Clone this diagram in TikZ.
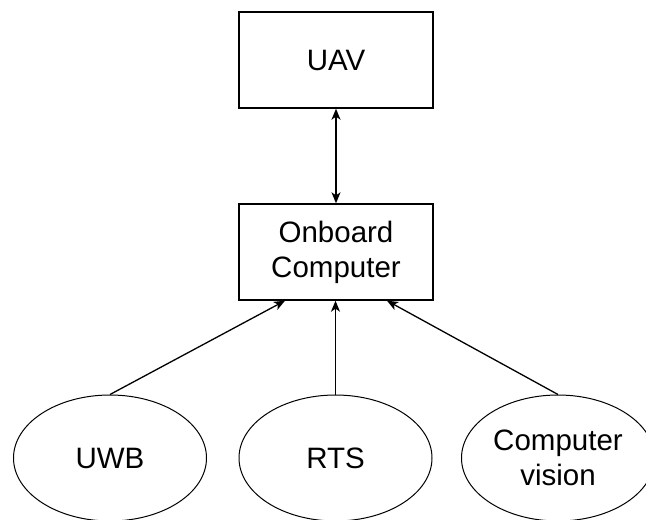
\documentclass[tikz,border=0pt]{standalone}
\usepackage{fontspec}
\setmainfont{Liberation Sans}
\usetikzlibrary{arrows.meta,shapes.geometric}
\begin{document}
\begin{tikzpicture}[x=1pt,y=-1pt,
  box/.style={draw,line width=1.4pt,rectangle,minimum width=194pt,minimum height=96pt,inner sep=0pt,align=center,font=\fontsize{29.5}{35}\selectfont},
  oval/.style={draw,line width=1pt,ellipse,minimum width=193pt,minimum height=126pt,inner sep=0pt,align=center,font=\fontsize{29.5}{35}\selectfont},
  conn/.style={line width=1.3pt,-{Stealth[length=11pt,width=9pt,inset=3pt]}},
  conn2/.style={line width=1.3pt,{Stealth[length=11pt,width=9pt,inset=3pt]}-{Stealth[length=11pt,width=9pt,inset=3pt]}}]
\useasboundingbox (0,0) rectangle (646,520);
\clip (0,0) rectangle (646,520);
\node[box] (uav) at (336,60) {UAV};
\node[box] (obc) at (336,252) {Onboard\\Computer};
\node[oval] (uwb) at (110,458) {UWB};
\node[oval] (rts) at (335.5,458) {RTS};
\node[oval] (cv) at (558,458) {Computer\\vision};
\draw[conn2] (uav.south) -- (obc.north);
\draw[conn] (uwb.north) -- ([xshift=-51pt]obc.south);
\draw[conn] (rts.north) -- (rts.north |- obc.south);
\draw[conn] (cv.north) -- ([xshift=51pt]obc.south);
\end{tikzpicture}
\end{document}
